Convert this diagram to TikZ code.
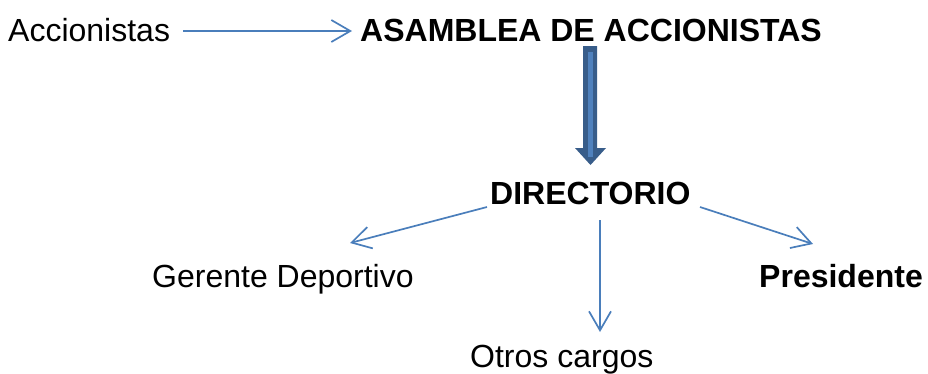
\documentclass[tikz,border=0pt]{standalone}
\usepackage{fontspec}
\setmainfont{Liberation Sans}
\usetikzlibrary{arrows.meta}
\definecolor{lineblue}{HTML}{4A7EBB}
\definecolor{darkblue}{HTML}{385D8A}
\definecolor{midblue}{HTML}{4F81BD}
\begin{document}
\begin{tikzpicture}[x=1pt,y=-1pt,
  lbl/.style={inner sep=0pt,font=\fontsize{32}{38}\selectfont},
  blbl/.style={lbl,font=\fontsize{32}{38}\selectfont\bfseries},
  conn/.style={draw=lineblue,line width=1.7pt,-{Straight Barb[length=19pt,width=22pt,line width=1.7pt]}}]
\useasboundingbox (0,0) rectangle (928,373);
\node[lbl,anchor=base west] (acc) at (8,41) {Accionistas};
\node[blbl,anchor=base west] (asa) at (360,41) {ASAMBLEA DE ACCIONISTAS};
\node[blbl,anchor=base west] (dir) at (490,204) {DIRECTORIO};
\node[lbl,anchor=base west] (ger) at (152,287) {Gerente Deportivo};
\node[blbl,anchor=base west] (pre) at (759,287) {Presidente};
\node[lbl,anchor=base west] (otr) at (470,367) {Otros cargos};
\coordinate (a1) at (183,31);
\coordinate (a2) at (352,31);
\draw[conn] (a1) -- (a2);
\coordinate (g1) at (487,207);
\coordinate (g2) at (350,243);
\draw[conn] (g1) -- (g2);
\coordinate (p1) at (700,207);
\coordinate (p2) at (813,244);
\draw[conn] (p1) -- (p2);
\coordinate (o1) at (600,220);
\coordinate (o2) at (600,332);
\draw[conn] (o1) -- (o2);
% thick arrow
\fill[darkblue] (583,46) -- (597,46) -- (597,148) -- (606,148) -- (590.5,165) -- (575,148) -- (583,148) -- cycle;
\fill[midblue] (588,52) rectangle (593,157);
\end{tikzpicture}
\end{document}
